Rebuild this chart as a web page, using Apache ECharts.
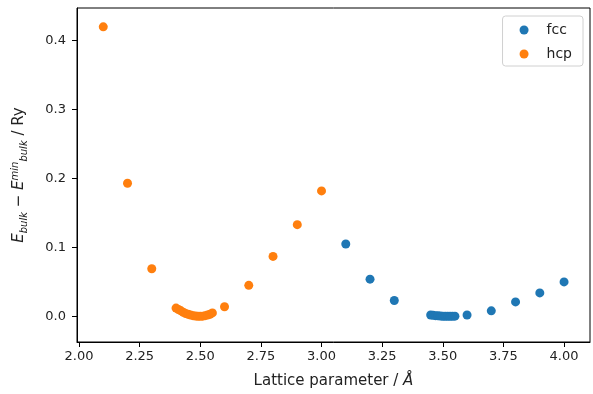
<!DOCTYPE html>
<html>
<head>
<meta charset="utf-8">
<script src="https://cdn.jsdelivr.net/npm/echarts@6/dist/echarts.min.js"></script>
<style>
    html, body { margin: 0; padding: 0; background: #fff; }
    #chart { width: 593px; height: 394px; }
</style>
</head>
<body>
<div id="chart"></div>
<script>
    // lattice parameter (Å) and energy above minimum (Ry)
    var fccX = [3.1, 3.2, 3.3, 3.45, 3.46, 3.47, 3.48, 3.49, 3.5, 3.51, 3.52, 3.53, 3.54, 3.55, 3.6, 3.7, 3.8, 3.9, 4.0];
    var fccY = [0.105, 0.054, 0.023, 0.002, 0.0015, 0.001, 0.0007, 0.0004, 0.0002, 0.0001, 0.0, 0.0, 0.0001, 0.0003, 0.002, 0.008, 0.021, 0.034, 0.05];
    var hcpX = [2.1, 2.2, 2.3, 2.4, 2.41, 2.42, 2.43, 2.44, 2.45, 2.46, 2.47, 2.48, 2.49, 2.5, 2.51, 2.52, 2.53, 2.54, 2.55, 2.6, 2.7, 2.8, 2.9, 3.0];
    var hcpY = [0.42, 0.193, 0.069, 0.012, 0.01, 0.008, 0.006, 0.004, 0.003, 0.002, 0.001, 0.0005, 0.0, 0.0, 0.0003, 0.001, 0.002, 0.003, 0.005, 0.014, 0.045, 0.087, 0.133, 0.182];
    var xTicks = [2.0, 2.25, 2.5, 2.75, 3.0, 3.25, 3.5, 3.75, 4.0];
    var yTicks = [0.0, 0.1, 0.2, 0.3, 0.4];

    function pairs(xs, ys) {
        return xs.map(function (x, i) { return [x, ys[i]]; });
    }

    var font = 'DejaVu Sans';
    var chart = echarts.init(document.getElementById('chart'));
    chart.setOption({
        animation: false,
        textStyle: { fontFamily: font },
        grid: {
            left: 77, right: 3, top: 8, bottom: 51,
            show: true, borderColor: '#000', borderWidth: 1
        },
        legend: {
            right: 10, top: 16,
            orient: 'vertical',
            icon: 'circle',
            itemWidth: 9, itemHeight: 9, itemGap: 10,
            padding: [7, 11, 5, 17],
            borderColor: '#d0d0d0', borderWidth: 1, borderRadius: 3,
            textStyle: { fontFamily: font, fontSize: 14, lineHeight: 14, color: '#222', padding: [0, 0, 0, 13] },
            data: ['fcc', 'hcp']
        },
        xAxis: {
            type: 'value',
            min: 1.9917, max: 4.107,
            splitLine: { show: false },
            axisLine: { onZero: false, lineStyle: { color: '#000' } },
            axisTick: { show: true, length: 5, customValues: xTicks, lineStyle: { color: '#000' } },
            axisLabel: {
                customValues: xTicks, color: '#222', fontSize: 13, margin: 8,
                formatter: function (v) { return v.toFixed(2); }
            },
            name: '{n|Lattice parameter / }{i|Å}',
            nameLocation: 'middle', nameGap: 32,
            nameTextStyle: {
                rich: {
                    n: { fontFamily: font, fontSize: 15, color: '#222' },
                    i: { fontFamily: font, fontSize: 15, color: '#222', fontStyle: 'italic' }
                }
            }
        },
        yAxis: {
            type: 'value',
            min: -0.0372, max: 0.4473,
            splitLine: { show: false },
            axisLine: { onZero: false, lineStyle: { color: '#000' } },
            axisTick: { show: true, length: 5, customValues: yTicks, lineStyle: { color: '#000' } },
            axisLabel: {
                customValues: yTicks, color: '#222', fontSize: 13, margin: 11,
                formatter: function (v) { return v.toFixed(1); }
            },
            name: '{i|E}{sub|bulk}{n| − }{i|E}{sup|min}{sub|bulk}{n| / Ry}',
            nameLocation: 'middle', nameGap: 48, nameRotate: 90,
            nameTextStyle: {
                rich: {
                    n: { fontFamily: font, fontSize: 15, color: '#222' },
                    i: { fontFamily: font, fontSize: 15, color: '#222', fontStyle: 'italic' },
                    sub: { fontFamily: font, fontSize: 10, color: '#222', fontStyle: 'italic', padding: [9, 0, 0, 0] },
                    sup: { fontFamily: font, fontSize: 10, color: '#222', fontStyle: 'italic', padding: [0, 0, 9, 0] }
                }
            }
        },
        series: [
            {
                name: 'fcc', type: 'scatter', symbolSize: 9,
                itemStyle: { color: '#1f77b4', opacity: 1 },
                data: pairs(fccX, fccY)
            },
            {
                name: 'hcp', type: 'scatter', symbolSize: 9,
                itemStyle: { color: '#ff7f0e', opacity: 1 },
                data: pairs(hcpX, hcpY)
            }
        ]
    });
</script>
</body>
</html>
